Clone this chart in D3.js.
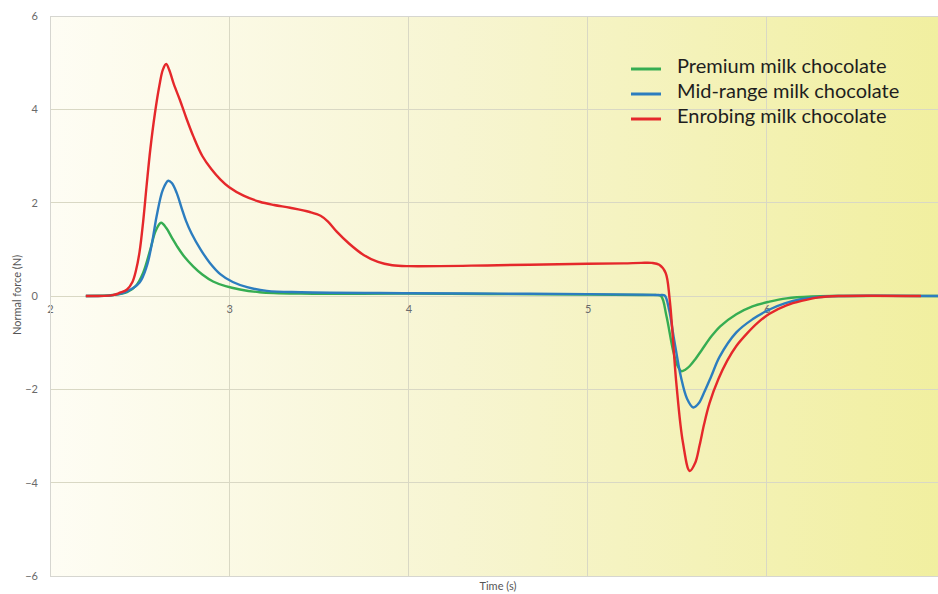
<!DOCTYPE html>
<html><head><meta charset="utf-8">
<script src="https://cdn.jsdelivr.net/npm/d3@7"></script>
<style>body{margin:0;background:#fff}svg{display:block}</style>
</head><body>
<svg id="c" width="938" height="594"></svg>
<script>
const xTicks = [2, 3, 4, 5, 6];
const yTicks = [-6, -4, -2, 0, 2, 4, 6];
const seriesNames = ["Premium milk chocolate", "Mid-range milk chocolate", "Enrobing milk chocolate"];
const seriesColors = ["#36ad52", "#2c7dbf", "#e5282b"];

const premiumTime = [2.20,2.35,2.43,2.48,2.52,2.56,2.59,2.62,2.65,2.68,2.71,2.75,2.80,2.85,2.91,2.98,3.06,3.17,3.40,4.00,5.00,5.30,5.38,5.41,5.44,5.476,5.50,5.523,5.545,5.57,5.60,5.64,5.69,5.74,5.83,5.92,6.015,6.11,6.25,6.40,7.00];
const premiumForce = [0,0.02,0.08,0.22,0.5,1.0,1.4,1.57,1.45,1.25,1.06,0.84,0.63,0.46,0.31,0.21,0.14,0.08,0.05,0.05,0.03,0.02,0.02,0.0,-0.43,-1.15,-1.48,-1.61,-1.58,-1.5,-1.36,-1.14,-0.87,-0.65,-0.39,-0.22,-0.12,-0.05,-0.01,0,0];

const midTime = [2.20,2.35,2.43,2.50,2.54,2.57,2.595,2.63,2.66,2.68,2.707,2.735,2.76,2.79,2.84,2.89,2.95,3.02,3.10,3.21,3.40,4.00,4.50,5.00,5.30,5.40,5.43,5.455,5.48,5.52,5.555,5.59,5.62,5.65,5.69,5.737,5.83,5.92,6.015,6.10,6.19,6.30,6.40,7.00];
const midForce = [0,0.02,0.1,0.29,0.64,1.15,1.71,2.28,2.47,2.42,2.21,1.88,1.6,1.34,1.0,0.72,0.47,0.3,0.19,0.11,0.08,0.06,0.05,0.04,0.03,0.02,0.01,-0.3,-0.87,-1.72,-2.2,-2.39,-2.3,-2.07,-1.72,-1.3,-0.78,-0.5,-0.29,-0.16,-0.07,-0.02,0,0];

const enrobingTime = [2.20,2.35,2.39,2.43,2.46,2.48,2.50,2.52,2.54,2.56,2.585,2.61,2.63,2.648,2.665,2.69,2.725,2.76,2.80,2.85,2.90,2.95,3.00,3.08,3.17,3.25,3.34,3.45,3.51,3.55,3.60,3.67,3.75,3.83,3.91,4.00,4.50,5.00,5.20,5.30,5.357,5.40,5.435,5.458,5.495,5.532,5.57,5.60,5.625,5.65,5.68,5.73,5.78,5.83,5.89,5.95,6.015,6.11,6.20,6.29,6.40,6.86];
const enrobingForce = [0,0.02,0.07,0.14,0.3,0.55,0.95,1.6,2.4,3.15,3.9,4.5,4.85,4.97,4.85,4.55,4.2,3.82,3.42,3.0,2.72,2.5,2.33,2.15,2.02,1.95,1.89,1.8,1.72,1.6,1.38,1.12,0.88,0.73,0.66,0.64,0.66,0.69,0.70,0.71,0.71,0.67,0.5,-0.07,-1.86,-3.14,-3.75,-3.58,-3.2,-2.75,-2.3,-1.78,-1.38,-1.07,-0.8,-0.57,-0.38,-0.2,-0.1,-0.03,0,0];

const series = [
  {t: premiumTime, v: premiumForce},
  {t: midTime, v: midForce},
  {t: enrobingTime, v: enrobingForce}
];

const svg = d3.select("#c");
const pL = 50, pR = 946, pT = 16, pB = 576;
const x = d3.scaleLinear().domain([2, 7]).range([pL, pR]);
const y = d3.scaleLinear().domain([-6, 6]).range([pB, pT]);
const FONT = "Lato, 'Open Sans', sans-serif";

const defs = svg.append("defs");
const grad = defs.append("linearGradient").attr("id", "bg").attr("x1", "0").attr("x2", "1").attr("y1", "0").attr("y2", "0");
grad.append("stop").attr("offset", "0%").attr("stop-color", "#fefdf4");
grad.append("stop").attr("offset", "45%").attr("stop-color", "#f7f5d2");
grad.append("stop").attr("offset", "100%").attr("stop-color", "#f1ef9f");
const clip = defs.append("clipPath").attr("id", "pc");
clip.append("rect").attr("x", pL).attr("y", pT).attr("width", pR - pL).attr("height", pB - pT);

svg.append("rect").attr("x", pL).attr("y", pT).attr("width", pR - pL).attr("height", pB - pT).attr("fill", "url(#bg)");

// grid
const grid = svg.append("g").attr("stroke", "#d9d8c4").attr("stroke-width", 1).attr("shape-rendering", "crispEdges");
grid.selectAll("line.v").data(xTicks).join("line").attr("class", "v")
  .attr("x1", d => x(d)).attr("x2", d => x(d)).attr("y1", pT).attr("y2", pB);
grid.selectAll("line.h").data(yTicks).join("line").attr("class", "h")
  .attr("x1", pL).attr("x2", pR).attr("y1", d => y(d)).attr("y2", d => y(d));

// axes labels via d3 axes
const yAxis = svg.append("g").attr("transform", `translate(${pL - 8},0)`)
  .call(d3.axisLeft(y).tickValues(yTicks).tickSize(0).tickPadding(4).tickFormat(d3.format("d")));
yAxis.select(".domain").remove();
yAxis.selectAll("text").attr("fill", "#6a6a6a").style("font-family", FONT).style("font-size", "11px");

const xAxis = svg.append("g").attr("transform", `translate(0,${y(0) + 6})`)
  .call(d3.axisBottom(x).tickValues(xTicks).tickSize(0).tickPadding(3).tickFormat(d3.format("d")));
xAxis.select(".domain").remove();
xAxis.selectAll("text").attr("fill", "#6a6a6a").style("font-family", FONT).style("font-size", "11px");

// titles
svg.append("text").attr("x", 498).attr("y", 590).attr("text-anchor", "middle")
  .attr("fill", "#555").style("font-family", FONT).style("font-size", "11px").text("Time (s)");
svg.append("text").attr("transform", "translate(21,295) rotate(-90)").attr("text-anchor", "middle")
  .attr("fill", "#555").style("font-family", FONT).style("font-size", "11px").text("Normal force (N)");

// lines
const line = d3.line().x(d => x(d[0])).y(d => y(d[1])).curve(d3.curveCatmullRom.alpha(0.5));
const plot = svg.append("g").attr("clip-path", "url(#pc)");
series.forEach((s, i) => {
  const pts = s.t.map((t, j) => [t, s.v[j]]);
  plot.append("path").datum(pts).attr("d", line).attr("fill", "none")
    .attr("stroke", seriesColors[i]).attr("stroke-width", 2.4).attr("stroke-linejoin", "round");
});

// legend
const leg = svg.append("g");
const rowY = [66, 91, 116];
seriesNames.forEach((n, i) => {
  leg.append("line").attr("x1", 631).attr("x2", 661).attr("y1", rowY[i] + 3).attr("y2", rowY[i] + 3)
    .attr("stroke", seriesColors[i]).attr("stroke-width", 3);
  leg.append("text").attr("x", 677).attr("y", rowY[i]).attr("dy", "0.35em")
    .attr("fill", "#1e1e1e").style("font-family", FONT).style("font-size", "20px").text(n);
});

// border
svg.append("rect").attr("x", pL).attr("y", pT).attr("width", pR - pL).attr("height", pB - pT)
  .attr("fill", "none").attr("stroke", "#d6d6d0").attr("stroke-width", 1).attr("shape-rendering", "crispEdges");
</script>
</body></html>
